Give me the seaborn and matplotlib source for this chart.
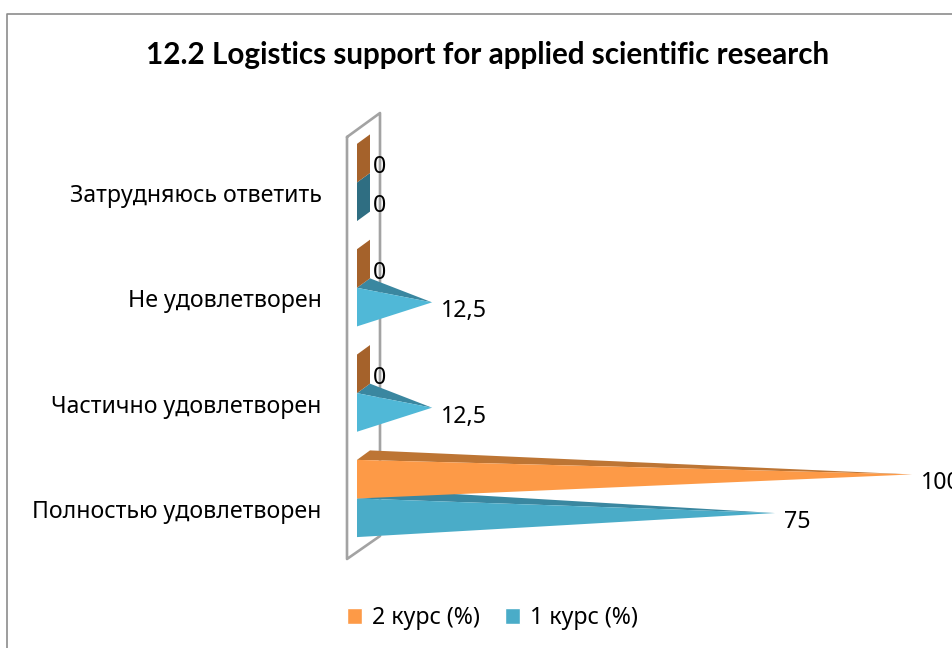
import matplotlib.pyplot as plt
from matplotlib.lines import Line2D
from matplotlib.patches import Polygon
import seaborn as sns
import pandas as pd
import numpy as np

# данные
categories = ['Затрудняюсь ответить', 'Не удовлетворен', 'Частично удовлетворен', 'Полностью удовлетворен']
kurs_2 = [0, 0, 0, 100]
kurs_1 = [0, 12.5, 12.5, 75]
labels_2 = ['0', '0', '0', '100']
labels_1 = ['0', '12,5', '12,5', '75']
series_names = ['2 курс (%)', '1 курс (%)']
title = '12.2 Logistics support for applied scientific research'

W, H = 953, 648
TXT = 16.65

sns.set_theme(style='white')
plt.rcParams['font.family'] = ['Noto Sans', 'DejaVu Sans']

df = pd.DataFrame({
    'cat': categories * 2,
    'val': kurs_2 + kurs_1,
    'kurs': [series_names[0]] * 4 + [series_names[1]] * 4,
})

fig = plt.figure(figsize=(W / 100, H / 100), dpi=100)
# оси: x 0..100 = 363.5..912 px
ax = fig.add_axes([363.5 / W, 1 - 560 / H, (912 - 363.5) / W, (560 - 130) / H])
ax.patch.set_visible(False)

sns.barplot(data=df, y='cat', x='val', hue='kurs', order=categories,
            hue_order=series_names, palette=['#FD9A47', '#4AACC8'],
            saturation=1, width=0.733, orient='h', ax=ax)
ax.set_xlim(0, 100)
ax.set_ylim(3.584, -0.498)

# легенда пока бары видимы
handles, leg_labels = ax.get_legend_handles_labels()
ax.legend(handles, leg_labels, ncol=2, frameon=False, fontsize=TXT,
          loc='center', bbox_to_anchor=(492.5 / W, 1 - 618 / H),
          bbox_transform=fig.transFigure, handlelength=0.65, handleheight=0.65,
          handletextpad=0.43, columnspacing=1.1, labelcolor='black')

DX = 1.185   # глубина конуса по x
DY = 0.09    # глубина конуса по y

styles = {
    series_names[0]: {'front': '#FD9A47', 'top': '#BD7534', 'zero': '#A5622B'},
    series_names[1]: {'front': '#4AACC8', 'top': '#3A87A0', 'zero': '#2F6E82', 'small': '#50B8D7'},
}
texts = {series_names[0]: labels_2, series_names[1]: labels_1}

# сначала 1 курс, потом 2 курс сверху
for container, name in reversed(list(zip(ax.containers, series_names))):
    st = styles[name]
    for k, bar in enumerate(container.patches):
        v = bar.get_width()
        y0 = bar.get_y()
        y1 = y0 + bar.get_height()
        yc = (y0 + y1) / 2
        bar.set_visible(False)
        if v == 0:
            pts = [(-DX, y0), (DX, y0 - DY), (DX, y1 - DY), (-DX, y1)]
            ax.add_patch(Polygon(pts, fc=st['zero'], ec='none', clip_on=False, zorder=3))
        else:
            tip = (v, yc - DY / 2)
            front = st['small'] if v < 50 and 'small' in st else st['front']
            ax.add_patch(Polygon([(-DX, y0), (DX, y0 - DY), tip], fc=st['top'], ec='none',
                                 clip_on=False, zorder=3))
            ax.add_patch(Polygon([(-DX, y0), tip, (-DX, y1)], fc=front, ec='none',
                                 clip_on=False, zorder=3))
        ax.annotate(texts[name][k], xy=(v, yc - DY / 2), xytext=(9, -9),
                    textcoords='offset pixels', ha='left', va='center', fontsize=TXT,
                    color='black', annotation_clip=False, zorder=5)

# подписи категорий чуть ниже конусов
ax.set_yticks(np.arange(4) + 0.1, categories)
ax.tick_params(axis='y', length=0, pad=30, labelsize=TXT, labelcolor='black')
ax.set_xticks([])
ax.set_xlabel('')
ax.set_ylabel('')
sns.despine(ax=ax, left=True, bottom=True)

# задняя стенка
wall = np.array([(347, 137), (380, 113), (380, 536), (347, 559), (347, 137)], dtype=float)
fig.add_artist(Line2D(wall[:, 0] / W, 1 - wall[:, 1] / H, color='#A3A3A3', lw=1.9, zorder=-1))

# рамка диаграммы
fig.add_artist(Line2D([7.5 / W, 7.5 / W, 1], [0, 1 - 14 / H, 1 - 14 / H], color='#8C8C8C', lw=1.2, zorder=-1))

fig.text(488 / W, 1 - 55 / H, title, ha='center', va='center', fontsize=21.3,
         fontweight='bold', family=['Lato', 'Open Sans'], color='black')

plt.savefig('out.png', dpi=100)
